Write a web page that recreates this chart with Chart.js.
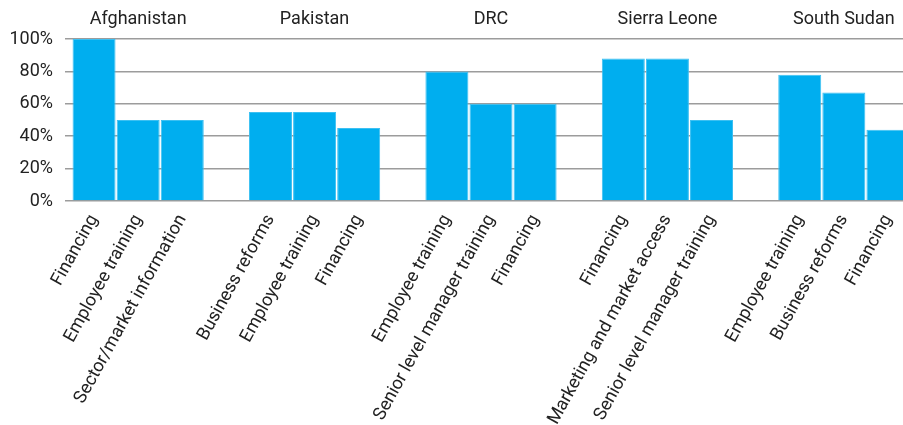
<!DOCTYPE html>
<html>
<head>
<meta charset="utf-8">
<script src="https://cdn.jsdelivr.net/npm/chart.js@4"></script>
<style>
html,body{margin:0;padding:0;background:#fff;overflow:hidden;}
#wrap{width:903px;height:425px;overflow:hidden;}
canvas{display:block;}
</style>
</head>
<body>
<div id="wrap"><canvas id="c" width="910" height="425"></canvas></div>
<script>
const countries = ['Afghanistan','Pakistan','DRC','Sierra Leone','South Sudan'];
const afghanistanLabels = ['Financing','Employee training','Sector/market information'];
const afghanistanValues = [100, 50, 50];
const pakistanLabels = ['Business reforms','Employee training','Financing'];
const pakistanValues = [55, 55, 45];
const drcLabels = ['Employee training','Senior level manager training','Financing'];
const drcValues = [80, 60, 60];
const sierraLeoneLabels = ['Financing','Marketing and market access','Senior level manager training'];
const sierraLeoneValues = [88, 88, 50];
const southSudanLabels = ['Employee training','Business reforms','Financing'];
const southSudanValues = [78, 67, 44];
const yTicks = [0, 20, 40, 60, 80, 100];

const groupLabels = [afghanistanLabels, pakistanLabels, drcLabels, sierraLeoneLabels, southSudanLabels];
const groupValues = [afghanistanValues, pakistanValues, drcValues, sierraLeoneValues, southSudanValues];

const labels = [], values = [], topLabels = [];
groupLabels.forEach((g, gi) => {
  g.forEach((l, i) => {
    labels.push(l);
    values.push(groupValues[gi][i]);
    topLabels.push(i === 1 ? countries[gi] : '');
  });
  if (gi < groupLabels.length - 1) { labels.push(''); values.push(null); topLabels.push(''); }
});

const FONT = 'Roboto, "Liberation Sans", sans-serif';
new Chart(document.getElementById('c'), {
  type: 'bar',
  data: {
    labels: labels,
    datasets: [{
      data: values,
      backgroundColor: '#00AEEF',
      borderColor: '#3CC0F2',
      borderWidth: 1,
      barPercentage: 0.975,
      categoryPercentage: 1.0,
      xAxisID: 'x',
      yAxisID: 'y'
    }]
  },
  options: {
    responsive: false,
    animation: false,
    events: [],
    layout: { padding: 0 },
    plugins: { legend: { display: false }, tooltip: { enabled: false } },
    scales: {
      x: {
        type: 'category',
        position: 'bottom',
        offset: true,
        grid: { display: false },
        border: { display: false },
        ticks: {
          autoSkip: false, maxRotation: 61, minRotation: 61, padding: 2,
          color: '#222222', font: { family: FONT, size: 18 }
        },
        afterFit: s => { s.height = 224; }
      },
      x2: {
        type: 'category',
        position: 'top',
        labels: topLabels,
        offset: true,
        grid: { display: false },
        border: { display: false },
        ticks: {
          autoSkip: false, maxRotation: 0, minRotation: 0, padding: 1,
          color: '#222222', font: { family: FONT, size: 18 }
        },
        afterFit: s => { s.height = 39; }
      },
      y: {
        min: 0, max: 100,
        afterBuildTicks: s => { s.ticks = yTicks.map(v => ({ value: v })); },
        grid: { color: '#9c9c9c', lineWidth: 1.5, tickLength: 7, drawTicks: true },
        border: { display: false },
        ticks: {
          padding: 12, color: '#222222', font: { family: FONT, size: 18 },
          callback: v => v + '%'
        },
        afterFit: s => { s.width = 72; }
      }
    }
  }
});
</script>
</body>
</html>
